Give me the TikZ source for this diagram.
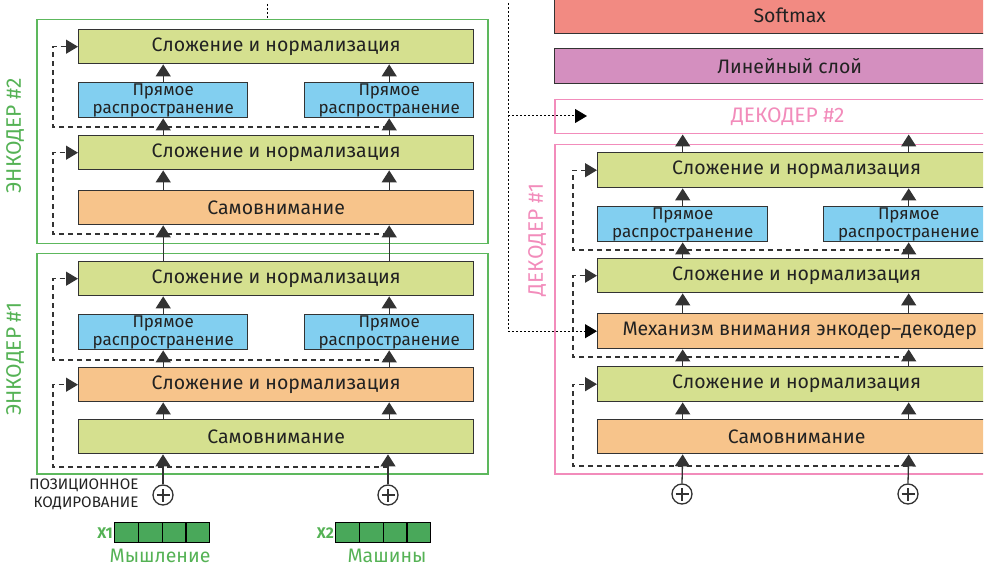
\documentclass[tikz,border=0pt]{standalone}
\usepackage{fontspec}
\setmainfont{Fira Sans}
\usetikzlibrary{arrows.meta}

\definecolor{cgreen}{HTML}{D5E08F}
\definecolor{cblue}{HTML}{82CFF0}
\definecolor{corange}{HTML}{F7C48B}
\definecolor{csoft}{HTML}{F28A82}
\definecolor{clin}{HTML}{D48FBF}
\definecolor{cframeg}{HTML}{5DB85D}
\definecolor{clabg}{HTML}{55B255}
\definecolor{cpink}{HTML}{F28CBB}
\definecolor{ccell}{HTML}{49A85A}
\definecolor{boxline}{HTML}{333333}
\definecolor{txt}{HTML}{222222}

\newcommand\boxfont{\fontsize{19.5}{20}\selectfont}
\newcommand\fffont{\fontsize{17}{18}\selectfont}
\newcommand\lblfont{\fontsize{21}{22}\selectfont}
\newcommand\notefont{\fontsize{15.2}{18}\selectfont}

\tikzset{
  blk/.style={draw=boxline, line width=1.4pt, inner sep=0pt, text=txt,
    font=\boxfont, anchor=north west},
  an/.style={blk, fill=cgreen},
  sa/.style={blk, fill=corange},
  ff/.style={blk, fill=cblue, font=\fffont, align=center},
  encframe/.style={draw=cframeg, line width=1.5pt, anchor=north west, inner sep=0pt},
  decframe/.style={draw=cpink, line width=1.5pt, anchor=north west, inner sep=0pt},
  up/.style={draw=boxline, line width=1.3pt, -{Triangle[length=12pt,width=15pt]}},
  res/.style={draw=boxline, line width=1.2pt, dash pattern=on 5pt off 4pt,
    -{Triangle[length=12pt,width=14pt]}},
  xdot/.style={draw=black, line width=1pt, dash pattern=on 2pt off 2pt},
  xdotarrow/.style={xdot, -{Triangle[length=12pt,width=14pt]}},
  oplus/.style={circle, draw=boxline, line width=1.3pt, minimum size=20pt, inner sep=0pt,
    path picture={\draw[boxline, line width=1.3pt]
      ([xshift=-6.5pt]path picture bounding box.center) -- ([xshift=6.5pt]path picture bounding box.center)
      ([yshift=-6.5pt]path picture bounding box.center) -- ([yshift=6.5pt]path picture bounding box.center);}},
  cell/.style={draw=black, line width=1.3pt, fill=ccell, minimum width=23.75pt,
    minimum height=20pt, inner sep=0pt, anchor=north west},
  vecname/.style={text=clabg, font=\fontsize{15.5}{16}\selectfont\bfseries, anchor=east, inner sep=1pt},
}

\begin{document}
\begin{tikzpicture}[x=1pt,y=-1pt]
\useasboundingbox (0,0) rectangle (986,569);
\begin{scope}
\clip (-5,-5) rectangle (983,575);

% ---------------- Encoder 2 ----------------
\node[encframe, minimum width=451pt, minimum height=224pt] (enc2) at (36,19) {};
\node[an, minimum width=395pt, minimum height=34pt] (e2an2) at (78,29) {Сложение и нормализация};
\node[ff, minimum width=169pt, minimum height=35pt] (e2ffa) at (78,82) {Прямое\\распространение};
\node[ff, minimum width=169pt, minimum height=35pt] (e2ffb) at (304,82) {Прямое\\распространение};
\node[an, minimum width=395pt, minimum height=34pt] (e2an1) at (78,135) {Сложение и нормализация};
\node[sa, minimum width=395pt, minimum height=34pt] (e2sa) at (78,190) {Самовнимание};
\node[rotate=90, text=clabg, font=\lblfont] (enc2lab) at (15,136) {ЭНКОДЕР \#2};

% ---------------- Encoder 1 ----------------
\node[encframe, minimum width=451pt, minimum height=220pt] (enc1) at (36,253) {};
\node[an, minimum width=395pt, minimum height=34pt] (e1an2) at (78,261) {Сложение и нормализация};
\node[ff, minimum width=169pt, minimum height=35pt] (e1ffa) at (78,314) {Прямое\\распространение};
\node[ff, minimum width=169pt, minimum height=35pt] (e1ffb) at (304,314) {Прямое\\распространение};
\node[sa, minimum width=395pt, minimum height=34pt] (e1an1) at (78,367) {Сложение и нормализация};
\node[an, minimum width=395pt, minimum height=34pt] (e1sa) at (78,419) {Самовнимание};
\node[rotate=90, text=clabg, font=\lblfont] (enc1lab) at (15,359) {ЭНКОДЕР \#1};

% residual connections of the encoders
\coordinate (r21) at (388,127);
\coordinate (r22) at (388,234);
\coordinate (r11) at (388,360);
\coordinate (r12) at (388,467);
\draw[res] (r21) -- (53,127) -- (53,0 |- e2an2.west) -- (e2an2.west);
\draw[res] (r22) -- (53,234) -- (53,0 |- e2an1.west) -- (e2an1.west);
\draw[res] (r11) -- (53,360) -- (53,0 |- e1an2.west) -- (e1an2.west);
\draw[res] (r12) -- (53,467) -- (53,0 |- e1an1.west) -- (e1an1.west);

% positional encoding and inputs
\node[oplus] (pe1) at (163,495) {};
\node[oplus] (pe2) at (388,495) {};
\node[anchor=east, align=right, text=txt, font=\notefont] (penote) at (142,494)
  {ПОЗИЦИОННОЕ\\КОДИРОВАНИЕ};

\foreach \i in {0,...,3} {
  \node[cell] (xa\i) at (114+\i*23.75,522) {};
  \node[cell] (xb\i) at (335+\i*23.75,522) {};
}
\node[vecname] (xalab) at (xa0.west) {X1};
\node[vecname] (xblab) at (xb0.west) {X2};
\node[text=clabg, font=\boxfont] (wa) at (160,556) {Мышление};
\node[text=clabg, font=\boxfont] (wb) at (387,556) {Машины};

% columns of the encoders
\foreach \c in {pe1, pe2} {
  \draw[up] (\c.north) -- (\c |- e1sa.south);
}
\foreach \f in {e1ffa, e1ffb} {
  \draw[up] (\f |- e1sa.north) -- (\f |- e1an1.south);
  \draw[up] (\f |- e1an1.north) -- (\f.south);
  \draw[up] (\f.north) -- (\f |- e1an2.south);
}
\foreach \f/\g in {e1ffa/e2ffa, e1ffb/e2ffb} {
  \draw[up] (\f |- e1an2.north) -- (\f |- e2sa.south);
  \draw[up] (\g |- e2sa.north) -- (\g |- e2an1.south);
  \draw[up] (\g |- e2an1.north) -- (\g.south);
  \draw[up] (\g.north) -- (\g |- e2an2.south);
}

% ---------------- Output layers ----------------
\node[blk, fill=csoft, minimum width=470pt, minimum height=36pt] (soft) at (554,-3) {Softmax};
\node[blk, fill=clin, minimum width=470pt, minimum height=35pt] (lin) at (554,48) {Линейный слой};

% ---------------- Decoder 2 ----------------
\node[decframe, minimum width=466pt, minimum height=34pt, text=cpink, font=\lblfont] (dec2) at (554,99) {ДЕКОДЕР \#2};

% ---------------- Decoder 1 ----------------
\node[decframe, minimum width=466pt, minimum height=329pt] (dec1) at (554,144) {};
\node[an, minimum width=398pt, minimum height=35pt] (dan3) at (597,152) {Сложение и нормализация};
\node[ff, minimum width=170pt, minimum height=35pt] (dffa) at (597,206) {Прямое\\распространение};
\node[ff, minimum width=170pt, minimum height=35pt] (dffb) at (823,206) {Прямое\\распространение};
\node[an, minimum width=398pt, minimum height=34pt] (dan2) at (597,258) {Сложение и нормализация};
\node[sa, minimum width=398pt, minimum height=35pt] (ded) at (597,313) {\hspace*{6pt}Механизм внимания энкодер–декодер};
\node[an, minimum width=398pt, minimum height=35pt] (dan1) at (597,366) {Сложение и нормализация};
\node[sa, minimum width=398pt, minimum height=34pt] (dsa) at (597,419) {Самовнимание};
\node[rotate=90, text=cpink, font=\lblfont] (dec1lab) at (537,240) {ДЕКОДЕР \#1};

% residual connections of the decoder
\coordinate (rd1) at (908,250);
\coordinate (rd2) at (908,357);
\coordinate (rd3) at (908,466);
\draw[res] (rd1) -- (573,250) -- (573,0 |- dan3.west) -- (dan3.west);
\draw[res] (rd2) -- (573,357) -- (573,0 |- dan2.west) -- (dan2.west);
\draw[res] (rd3) -- (573,466) -- (573,0 |- dan1.west) -- (dan1.west);

\node[oplus] (dpa) at (682,494) {};
\node[oplus] (dpb) at (908,494) {};

% columns of the decoder
\foreach \c/\f in {dpa/dffa, dpb/dffb} {
  \draw[up] (\c.north) -- (\f |- dsa.south);
  \draw[up] (\f |- dsa.north) -- (\f |- dan1.south);
  \draw[up] (\f |- dan1.north) -- (\f |- ded.south);
  \draw[up] (\f |- ded.north) -- (\f |- dan2.south);
  \draw[up] (\f |- dan2.north) -- (\f.south);
  \draw[up] (\f.north) -- (\f |- dan3.south);
  \draw[up] (\f |- dan3.north) -- (\f |- dec2.south);
}

% encoder output fed to the decoders
\coordinate (tapA) at (267,4);
\coordinate (tapB) at (508,3);
\coordinate (d2in) at (587,116);
\draw[xdot] (tapA) -- (tapA |- enc2.north);
\draw[xdotarrow] (tapB) -- (tapB |- ded.west) -- (ded.west);
\draw[xdotarrow] (tapB |- d2in) -- (d2in);

\end{scope}
\end{tikzpicture}
\end{document}
